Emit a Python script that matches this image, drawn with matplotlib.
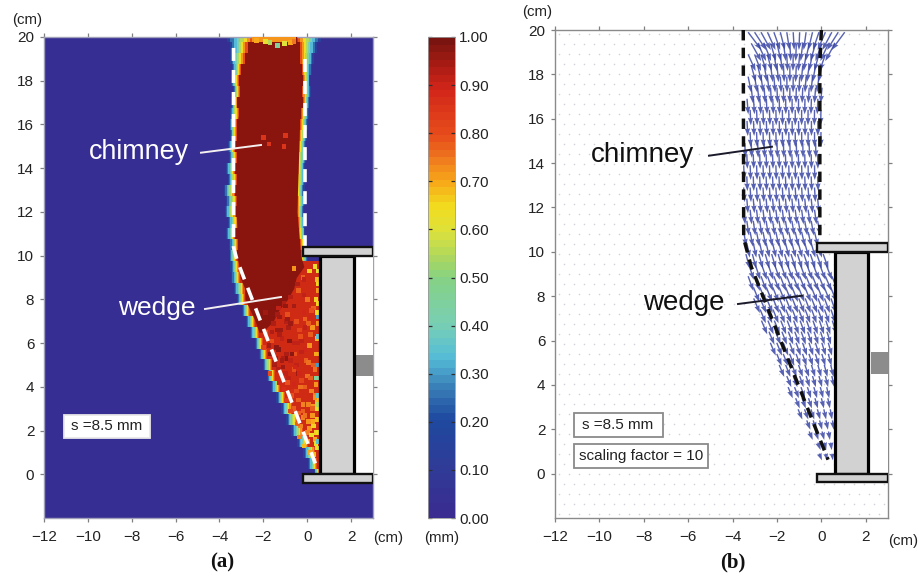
import numpy as np
import matplotlib
matplotlib.use("Agg")
import matplotlib.pyplot as plt
from matplotlib.colors import LinearSegmentedColormap
from matplotlib.patches import Rectangle

plt.rcParams['font.family'] = ['Liberation Sans', 'DejaVu Sans']

W, H = 919, 579
x_ticks = [-12, -10, -8, -6, -4, -2, 0, 2]
y_ticks = [0, 2, 4, 6, 8, 10, 12, 14, 16, 18, 20]
cbar_ticks = [0.0, 0.1, 0.2, 0.3, 0.4, 0.5, 0.6, 0.7, 0.8, 0.9, 1.0]

cmap_levels = [0.0, 0.1, 0.2, 0.27, 0.33, 0.4, 0.5, 0.55, 0.6, 0.65, 0.7, 0.75, 0.8, 0.9, 0.95, 1.0]
cmap_colors = ['#3a2c90', '#2f3c98', '#1f4aa0', '#3a80b8', '#55bcd8', '#79cfb5', '#86d282', '#b4d95a',
               '#dfe23a', '#f2dc20', '#f8aa18', '#f07a20', '#e84e1c', '#d2261a', '#a81c14', '#7a1410']

# Wetted band of the displacement map, read every 0.5 cm from y = 20 down to y = 0
band_y = [20, 19.5, 19, 18.5, 18, 17.5, 17, 16.5, 16, 15.5, 15, 14.5, 14, 13.5, 13, 12.5, 12, 11.5, 11, 10.5,
          10, 9.5, 9, 8.5, 8, 7.5, 7, 6.5, 6, 5.5, 5, 4.5, 4, 3.5, 3, 2.5, 2, 1.5, 1, 0.5, 0]
left_outer = [-3.65, -3.52, -3.54, -3.43, -3.46, -3.40, -3.46, -3.52, -3.54, -3.53, -3.61, -3.56, -3.69, -3.62,
              -3.80, -3.70, -3.77, -3.62, -3.69, -3.55, -3.54, -3.50, -3.46, -3.35, -3.19, -2.98, -2.78, -2.60,
              -2.40, -2.20, -2.02, -1.82, -1.64, -1.40, -1.18, -0.95, -0.72, -0.45, -0.19, 0.05, 0.32]
left_inner = [-2.45, -2.72, -2.83, -3.00, -3.13, -3.05, -3.18, -3.12, -3.21, -3.20, -3.29, -3.18, -3.29, -3.20,
              -3.29, -3.18, -3.24, -3.15, -3.29, -3.15, -3.21, -3.10, -3.06, -2.85, -2.83, -2.60, -2.37, -2.20,
              -2.00, -1.85, -1.61, -1.45, -1.23, -1.00, -0.70, -0.45, -0.17, 0.05, 0.37, 0.45, 0.55]
right_inner = [-0.47, -0.35, -0.32, -0.25, -0.17, -0.22, -0.17, -0.30, -0.35, -0.38, -0.44, -0.50, -0.47, -0.52,
               -0.55, -0.45, -0.47, -0.42, -0.39, -0.33, -0.30, 0.6, 0.6, 0.6, 0.6, 0.6, 0.6, 0.6,
               0.6, 0.6, 0.6, 0.6, 0.6, 0.6, 0.6, 0.6, 0.6, 0.6, 0.6, 0.6, 0.6]
right_outer = [0.62, 0.45, 0.31, 0.22, 0.14, 0.18, 0.10, 0.08, 0.03, 0.0, -0.05, -0.04, -0.09, -0.07,
               -0.12, -0.12, -0.16, -0.12, -0.09, -0.02, 0.03, 0.6, 0.6, 0.6, 0.6, 0.6, 0.6, 0.6,
               0.6, 0.6, 0.6, 0.6, 0.6, 0.6, 0.6, 0.6, 0.6, 0.6, 0.6, 0.6, 0.6]
band_levels = [0.14, 0.25, 0.33, 0.42, 0.55, 0.65, 0.72, 0.80]

dark_y = [20, 16, 12, 10.4, 10, 9.5, 9, 8.5, 8, 7.5, 7, 6.5]
dark_right = [-0.47, -0.35, -0.47, -0.33, -0.30, -0.15, -0.50, -0.62, -0.90, -1.30, -1.55, -2.05]
top_strip_x = [-2.5, -0.5]
top_strip_y = [19.75, 20]
top_notch_x = [-2.3, -1.9, -1.7, -1.35, -1.05, -0.75, -0.6]
top_notch_y = [19.85, 19.8, 19.75, 19.6, 19.7, 19.75, 19.8]
top_notch_val = [0.7, 0.62, 0.55, 0.45, 0.6, 0.7, 0.75]

spot_x = [-0.6, -0.2, 0.1, 0.35, 0.45, 0.5, 0.4, 0.45, 0.5, -0.4, 0.0, 0.3, 0.5, -0.9, -0.5, -0.1, 0.25, 0.45,
          -1.2, -0.8, -0.3, 0.1, 0.42, -1.4, -1.0, -0.55, -0.05, 0.35, -1.5, -1.0, -0.6, 0.0, 0.4, -0.9, -0.3, 0.2,
          0.48, -0.7, -0.2, 0.3, -0.6, -0.2, 0.25, 0.48, -0.3, 0.1, 0.42, 0.0, 0.35, 0.48, 0.3, -1.9, -1.6, -1.3,
          -1.3, -1.7, -1.1, -0.7, -0.4, -1.7, -2.0, 0.5, 0.5, 0.5, 0.5, 0.5, -2.0, -1.75, -1.9, -1.05, -1.0]
spot_y = [9.4, 9.0, 9.3, 9.5, 8.9, 8.4, 8.0, 7.4, 6.9, 8.4, 8.0, 7.6, 7.8, 7.3, 7.0, 7.1, 6.7, 6.2, 6.6, 6.1,
          6.3, 5.9, 5.5, 5.8, 5.3, 5.5, 5.2, 4.8, 5.0, 4.6, 4.8, 4.5, 4.1, 4.2, 4.0, 3.8, 3.4, 3.6, 3.2, 3.1,
          3.0, 2.6, 2.7, 2.5, 2.2, 2.1, 1.9, 1.5, 1.6, 1.2, 0.9, 6.5, 6.1, 7.6, 5.7, 5.5, 4.9, 5.5, 4.6, 4.6, 5.8,
          9.3, 8.7, 7.2, 6.3, 5.0, 15.4, 15.1, 7.4, 15.0, 15.5]
spot_val = [0.72, 0.78, 0.66, 0.64, 0.68, 0.72, 0.66, 0.64, 0.72, 0.78, 0.76, 0.78, 0.66, 0.80, 0.80, 0.78, 0.72,
            0.68, 0.96, 0.98, 0.80, 0.72, 0.70, 0.98, 0.98, 0.80, 0.78, 0.76, 0.95, 0.92, 0.80, 0.76, 0.72, 0.80,
            0.76, 0.74, 0.68, 0.80, 0.74, 0.72, 0.78, 0.74, 0.72, 0.68, 0.74, 0.72, 0.66, 0.72, 0.70, 0.62, 0.68,
            0.80, 0.80, 0.92, 0.98, 0.98, 0.96, 0.98, 0.96, 0.80, 0.82, 0.62, 0.66, 0.30, 0.35, 0.30, 0.86, 0.86,
            0.96, 0.86, 0.86]
more_spots = [(-0.15, 8.9, 0.92), (-0.45, 8.7, 0.94), (-0.75, 8.1, 0.93), (-1.05, 7.8, 0.94), (-1.35, 7.3, 0.95),
              (-1.55, 6.9, 0.94), (-1.15, 6.2, 0.92), (-0.85, 6.7, 0.94), (-0.35, 6.6, 0.82), (0.05, 6.9, 0.78),
              (0.2, 7.5, 0.80), (-0.15, 7.4, 0.90), (-0.6, 7.7, 0.95), (-0.95, 7.0, 0.93), (-1.25, 6.4, 0.94),
              (-0.25, 6.1, 0.92), (0.15, 6.4, 0.78), (-0.75, 5.2, 0.92), (-0.45, 6.0, 0.92), (-1.1, 5.3, 0.94),
              (-0.5, 5.0, 0.92), (-0.1, 5.7, 0.90), (0.3, 5.0, 0.78), (-1.25, 4.2, 0.90), (-0.85, 4.4, 0.92),
              (-0.55, 4.9, 0.90), (0.05, 5.1, 0.76), (-1.05, 3.9, 0.88), (-0.65, 3.8, 0.88), (-0.25, 4.3, 0.82),
              (0.15, 4.4, 0.78), (-0.95, 3.4, 0.84), (-0.5, 3.8, 0.82), (-0.1, 4.0, 0.78), (0.35, 3.6, 0.74),
              (-0.75, 2.9, 0.82), (-0.4, 2.8, 0.78), (0.05, 3.2, 0.74), (0.35, 3.5, 0.72), (-0.45, 2.3, 0.78),
              (-0.1, 2.7, 0.76), (0.25, 2.4, 0.70), (-0.35, 1.7, 0.74), (0.0, 1.9, 0.74), (0.3, 2.2, 0.66),
              (-0.15, 1.3, 0.68), (0.2, 1.8, 0.64), (0.1, 1.0, 0.70), (0.4, 1.4, 0.62), (-1.45, 5.3, 0.95),
              (-1.75, 5.9, 0.95), (-0.6, 6.0, 0.92), (-0.95, 5.5, 0.94), (-0.25, 5.6, 0.92), (-0.6, 4.1, 0.90),
              (0.15, 7.2, 0.90), (-0.1, 6.7, 0.92), (-0.35, 4.6, 0.90), (0.25, 3.0, 0.78), (-0.75, 6.9, 0.96),
              (-1.25, 7.2, 0.96), (-1.6, 6.5, 0.94), (-0.9, 7.1, 0.96), (-1.35, 6.6, 0.96), (-0.15, 8.2, 0.92),
              (-1.15, 5.2, 0.95), (-1.5, 5.1, 0.94), (-1.3, 4.8, 0.93), (-1.0, 7.7, 0.97), (0.42, 4.4, 0.45),
              (0.5, 3.6, 0.35), (0.48, 3.0, 0.62), (-0.4, 3.4, 0.78), (-0.2, 2.9, 0.78), (0.05, 2.4, 0.72),
              (0.5, 1.9, 0.65), (0.45, 3.2, 0.55), (0.5, 1.5, 0.35)]

# Flow vectors of panel (b), one row every 0.5 cm
flow_y = [19.9, 19.4, 18.9, 18.4, 17.9, 17.4, 16.9, 16.4, 15.9, 15.4, 14.9, 14.4, 13.9, 13.4, 12.9, 12.4, 11.9,
          11.4, 10.9, 10.4, 9.9, 9.4, 8.9, 8.4, 7.9, 7.4, 6.9, 6.4, 5.9, 5.4, 4.9, 4.4, 3.9, 3.4, 2.9, 2.4, 1.9, 1.4, 0.9]
flow_left = [-3.3, -3.3, -3.3, -3.3, -3.3, -3.3, -3.35, -3.35, -3.35, -3.35, -3.45, -3.5, -3.5, -3.5, -3.5, -3.5,
             -3.5, -3.5, -3.5, -3.5, -3.4, -3.4, -3.3, -3.2, -3.05, -2.9, -2.7, -2.5, -2.3, -2.15, -1.9, -1.7, -1.5,
             -1.3, -1.05, -0.8, -0.55, -0.3, -0.1]
flow_right = [1.1, 0.8, 0.4, 0.15, 0.1, 0.05, 0.05, 0.1, -0.05, 0.05, -0.1, -0.1, -0.1, -0.1, -0.1, -0.1, -0.1,
              -0.1, -0.1, 0.1, 0.3, 0.45, 0.5, 0.5, 0.5, 0.5, 0.5, 0.5, 0.5, 0.5, 0.5, 0.5, 0.5, 0.5,
              0.5, 0.5, 0.5, 0.5, 0.5]
tilt_left = [0.75, 0.6, 0.45, 0.3, 0.2, 0.12, 0.08, 0.05, 0.05, 0.04, 0.04, 0.04, 0.04, 0.04, 0.06, 0.08, 0.1,
             0.14, 0.18, 0.2, 0.26, 0.32, 0.36, 0.4, 0.42, 0.42, 0.42, 0.42, 0.42, 0.42, 0.42, 0.42, 0.42, 0.42,
             0.42, 0.42, 0.42, 0.42, 0.42]
tilt_right = [-0.75, -0.6, -0.4, -0.25, -0.15, -0.1, -0.05, -0.02, 0.0, 0.0, 0.02, 0.02, 0.02, 0.04, 0.06, 0.1,
              0.14, 0.18, 0.24, 0.3, 0.36, 0.4, 0.42, 0.4, 0.36, 0.34, 0.32, 0.3, 0.28, 0.26, 0.24, 0.22, 0.2,
              0.18, 0.16, 0.14, 0.12, 0.1, 0.1]
flow_len = [0.8, 0.8, 0.75, 0.75, 0.72, 0.7, 0.7, 0.7, 0.68, 0.68, 0.66, 0.66, 0.66, 0.66, 0.66, 0.66, 0.66, 0.66,
            0.66, 0.66, 0.66, 0.66, 0.66, 0.66, 0.66, 0.62, 0.62, 0.58, 0.58, 0.54, 0.54, 0.5, 0.5, 0.46, 0.46, 0.42,
            0.38, 0.34, 0.3]

left_dash_a_x, left_dash_a_y = [-3.36, -3.36, -3.2, 0.37], [19.5, 10.4, 9.8, 0.5]
right_dash_a_x, right_dash_a_y = [-0.09, -0.09], [19.0, 10.2]
left_dash_b_x, left_dash_b_y = [-3.52, -3.50, -3.15, 0.3], [20, 10.6, 9.3, 0.63]
right_dash_b_x, right_dash_b_y = [0.0, -0.07, -0.07], [20, 18.5, 10.4]


def axes_px(l, t, r, b):
    return fig.add_axes([l / W, 1 - b / H, (r - l) / W, (b - t) / H])


def fig_text(px, py, s, **kw):
    fig.text(px / W, 1 - py / H, s, **kw)


def fig_line(x, y, color):
    fig.add_artist(plt.Line2D([v / W for v in x], [1 - v / H for v in y], color=color, lw=1.4, zorder=20))


def style(ax, spine_color):
    ax.set_xlim(-12, 3)
    ax.set_ylim(-2, 20)
    ax.set_xticks(x_ticks, [str(v).replace('-', '\u2212') for v in x_ticks])
    ax.set_yticks(y_ticks, [str(v) for v in y_ticks])
    ax.tick_params(axis='both', which='both', direction='out', length=3, width=0.9, color='#808080',
                   labelsize=11, labelcolor='#222222', top=True, right=True, pad=4)
    ax.tick_params(axis='x', pad=5.5)
    for s in ax.spines.values():
        s.set_color(spine_color)
        s.set_linewidth(1.0)


def wall(ax):
    ax.add_patch(Rectangle((0.6, 0), 2.4, 10, fc='white', ec='none', zorder=6))
    ax.add_patch(Rectangle((2.22, 4.5), 0.78, 0.97, fc='#8c8c8c', ec='none', zorder=7))
    ax.add_patch(Rectangle((0.6, 0), 1.52, 10, fc='#d2d2d2', ec='black', lw=2.3, zorder=8))
    ax.add_patch(Rectangle((-0.2, 10), 3.2, 0.38, fc='#d2d2d2', ec='#111111', lw=1.7, zorder=9))
    ax.add_patch(Rectangle((-0.2, -0.38), 3.2, 0.38, fc='#d2d2d2', ec='#111111', lw=1.7, zorder=9))


fig = plt.figure(figsize=(W / 100, H / 100), dpi=100, facecolor='white')
cmap = LinearSegmentedColormap.from_list('disp', list(zip(cmap_levels, cmap_colors)), N=256)

# ---- panel (a)
ax = axes_px(44, 37, 373, 518)
ax.set_facecolor('#372e94')
style(ax, '#a0a0b8')
y = np.array(band_y)
lo, li, ri, ro = map(np.array, (left_outer, left_inner, right_inner, right_outer))
n = len(band_levels)
for i, lev in enumerate(band_levels):
    t = i / n
    ax.fill_betweenx(y, lo + (li - lo) * t, ro + (ri - ro) * t, color=cmap(lev), lw=0, step='mid', zorder=2)
ax.fill_betweenx(y, li, ri, color='#cf2a14', lw=0, step='mid', zorder=3)
dark_l = np.interp(dark_y, y[::-1], li[::-1])
ax.fill_betweenx(dark_y, dark_l, dark_right, color='#8a150e', lw=0, zorder=3)
ax.fill_betweenx(y[:21], li[:21], ri[:21], color='#8a150e', lw=0, step='mid', zorder=3)
ax.fill_between(top_strip_x, top_strip_y[0], top_strip_y[1], color=cmap(0.72), lw=0, zorder=3)
sx = spot_x + [s[0] for s in more_spots]
sy = spot_y + [s[1] for s in more_spots]
sv = spot_val + [s[2] for s in more_spots]
ax.scatter(sx, sy, c=sv, cmap=cmap, vmin=0, vmax=1, marker='s', s=11, lw=0, zorder=4)
ax.scatter(top_notch_x, top_notch_y, c=top_notch_val, cmap=cmap, vmin=0, vmax=1, marker='s', s=12, lw=0, zorder=4)
for xs, ys in ((left_dash_a_x, left_dash_a_y), (right_dash_a_x, right_dash_a_y)):
    ax.plot(xs, ys, color='white', lw=2.6, dashes=(3.6, 2.5), zorder=5)
wall(ax)

# ---- colour bar
cax = axes_px(428, 37, 455, 518)
steps = np.linspace(0, 1, 64)[::-1].reshape(-1, 1)
cax.imshow(steps, aspect='auto', cmap=cmap, vmin=0, vmax=1, extent=[0, 1, 0, 1], interpolation='nearest')
cax.set_xticks([])
cax.set_yticks(cbar_ticks, [f'{v:.2f}' for v in cbar_ticks])
cax.yaxis.tick_right()
cax.tick_params(axis='y', direction='in', length=3, width=0.9, color='#303030', labelsize=11,
                labelcolor='#222222', left=True, right=True, pad=3)
for s in cax.spines.values():
    s.set_color('#9a9a9a')
    s.set_linewidth(0.6)

# ---- panel (b)
bx = axes_px(555, 30, 888, 518)
style(bx, '#8a8a8a')
gx, gy = np.meshgrid(np.arange(-11.8, 3, 0.45), np.arange(-1.8, 20, 0.45))
gx = gx + (np.arange(gy.shape[0]) % 2)[:, None] * 0.22
bx.scatter(gx.ravel(), gy.ravel(), s=1.3, color='#d2d2da', lw=0, zorder=1)
X, Y, U, V = [], [], [], []
for k, row in enumerate(flow_y):
    cols = np.arange(flow_left[k] + (k % 2) * 0.14, flow_right[k], 0.29)
    for c in cols:
        frac = (c - flow_left[k]) / max(flow_right[k] - flow_left[k], 0.01)
        tilt = tilt_left[k] + (tilt_right[k] - tilt_left[k]) * frac
        X.append(c)
        Y.append(row)
        U.append(tilt * flow_len[k])
        V.append(-flow_len[k])
bx.quiver(X, Y, U, V, angles='xy', scale_units='xy', scale=1, color='#3a46a6', alpha=0.85, width=0.0042,
          headwidth=3.8, headlength=5.5, headaxislength=5, zorder=2)
for xs, ys in ((left_dash_b_x, left_dash_b_y), (right_dash_b_x, right_dash_b_y)):
    bx.plot(xs, ys, color='#101010', lw=2.5, dashes=(3.0, 2.1), zorder=5)
wall(bx)

# ---- annotation
for (l, t, r, b, col) in ((63.5, 415, 150, 437.5, '#e8e8e8'), (574, 413, 662.5, 437, '#8a8a8a'),
                          (574, 444, 707.5, 467.5, '#8a8a8a')):
    fig.add_artist(Rectangle((l / W, 1 - b / H), (r - l) / W, (b - t) / H, transform=fig.transFigure, fc='white',
                             ec=col, lw=1.3, zorder=15))
common = dict(ha='center', va='center', color='#222222', fontsize=11, zorder=21)
fig_text(107, 426, 's =8.5 mm', **common)
fig_text(618, 425, 's =8.5 mm', **common)
fig_text(641, 456, 'scaling factor = 10', **common)

fig_text(139, 152, 'chimney', color='white', fontsize=19.4, ha='center', va='center', zorder=21)
fig_text(157, 308, 'wedge', color='white', fontsize=19, ha='center', va='center', zorder=21)
fig_text(643, 155, 'chimney', color='#111111', fontsize=20, ha='center', va='center', zorder=21)
fig_text(684, 303, 'wedge', color='#111111', fontsize=20, ha='center', va='center', zorder=21)
fig_line([201, 261], [152.7, 145], '#f4f0f0')
fig_line([205, 281], [309, 297], '#f4f0f0')
fig_line([709, 772], [155.7, 146.7], '#1a1a2a')
fig_line([738, 802], [304, 295.7], '#1a1a2a')

unit = dict(ha='center', va='center', color='#222222', fontsize=10.8)
fig_text(27, 20, '(cm)', **unit)
fig_text(537, 12, '(cm)', **unit)
fig_text(388, 538, '(cm)', **unit)
fig_text(442, 538, '(mm)', **unit)
fig_text(903, 541, '(cm)', **unit)
panel = dict(ha='center', va='center', color='#111111', fontsize=15, fontweight='bold', family='Liberation Serif')
fig_text(222, 562, '(a)', **panel)
fig_text(733, 562, '(b)', **panel)

fig.savefig('out.png', dpi=100)
